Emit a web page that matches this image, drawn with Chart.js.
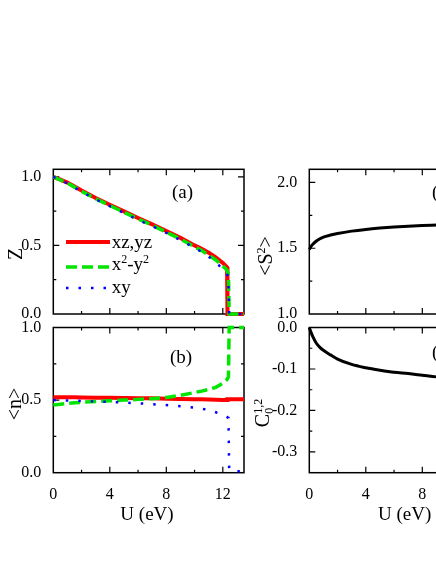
<!DOCTYPE html>
<html>
<head>
<meta charset="utf-8">
<script src="https://cdn.jsdelivr.net/npm/chart.js@4.4.1/dist/chart.umd.min.js"></script>
<style>
  html, body { margin: 0; padding: 0; background: #fff; }
  #wrap { position: relative; width: 436px; height: 564px; overflow: hidden;
          font-family: "Liberation Serif", "Times New Roman", serif; color: #000; }
  #wrap canvas { position: absolute; left: 0; top: 0; }
  .lbl { position: absolute; white-space: nowrap; font-size: 19px; line-height: 19px; }
  .ctr { transform: translate(-50%, -50%); }
  .rot { transform: translate(-50%, -50%) rotate(-90deg); font-size: 20px; line-height: 20px; }
  sup { font-size: 12px; line-height: 0; vertical-align: 7px; }
  .stack { display: inline-block; font-size: 12px; line-height: 11px; vertical-align: -4px; }
  .leg { position: absolute; }
</style>
</head>
<body>
<div id="wrap">
  <canvas id="cA" width="520" height="564"></canvas>
  <canvas id="cB" width="520" height="564"></canvas>
  <canvas id="cC" width="520" height="564"></canvas>
  <canvas id="cD" width="520" height="564"></canvas>

  <div class="lbl rot" style="left:14.5px; top:254px;">Z</div>
  <div class="lbl rot" style="left:13.5px; top:404px;">&lt;n&gt;</div>
  <div class="lbl rot" style="left:265px; top:256px;">&lt;S<sup>2</sup>&gt;</div>
  <div class="lbl rot" style="left:263px; top:413px;">C<span class="stack">1,2<br>0</span></div>
  <div class="lbl ctr" style="left:147px; top:513px;">U (eV)</div>
  <div class="lbl ctr" style="left:404.6px; top:513px;">U (eV)</div>
  <div class="lbl" style="left:172px; top:182.4px;">(a)</div>
  <div class="lbl" style="left:170px; top:347.4px;">(b)</div>
  <div class="lbl" style="left:432px; top:182.4px;">(c)</div>
  <div class="lbl" style="left:432px; top:342px;">(d)</div>
  <div id="legend"></div>
</div>
<script>
// U grid (eV) shared by panels (a) and (b)
const U = [0, 0.5, 1, 1.5, 2, 3, 4, 5, 6, 7, 8, 9, 10, 10.5, 11, 11.5, 12, 12.3, 12.33, 12.4, 12.45, 13, 13.5];

// (a) quasiparticle weight Z
const zXzYz = [1.0, 0.979, 0.958, 0.929, 0.900, 0.846, 0.797, 0.748, 0.700, 0.654, 0.605, 0.555, 0.500, 0.475, 0.447, 0.412, 0.372, 0.340, 0.0, 0, 0, 0, 0];
const zX2Y2 = [1.0, 0.977, 0.955, 0.925, 0.895, 0.840, 0.791, 0.742, 0.693, 0.647, 0.597, 0.546, 0.490, 0.462, 0.430, 0.394, 0.350, 0.318, 0.312, 0.280, 0.0, 0, 0];
const zXy   = [1.0, 0.977, 0.953, 0.922, 0.892, 0.836, 0.786, 0.736, 0.687, 0.641, 0.591, 0.539, 0.483, 0.452, 0.417, 0.379, 0.326, 0.295, 0.280, 0.216, 0.0, 0, 0];

// (b) orbital occupation <n>
const nXzYz = [0.520, 0.520, 0.519, 0.519, 0.518, 0.517, 0.516, 0.515, 0.513, 0.512, 0.510, 0.508, 0.506, 0.505, 0.504, 0.503, 0.501, 0.500, 0.505, 0.505, 0.505, 0.505, 0.505];
const nX2Y2 = [0.466, 0.472, 0.477, 0.481, 0.485, 0.490, 0.495, 0.500, 0.505, 0.510, 0.518, 0.533, 0.552, 0.562, 0.573, 0.588, 0.615, 0.642, 0.648, 0.660, 1.0, 1.0, 1.0];
const nXy   = [0.500, 0.499, 0.497, 0.496, 0.494, 0.490, 0.487, 0.483, 0.478, 0.472, 0.466, 0.458, 0.448, 0.441, 0.432, 0.416, 0.398, 0.384, 0.381, 0.378, 0.02, 0.01, 0.01];

// (c), (d) right column
const uRight = [0, 0.1, 0.25, 0.5, 0.75, 1, 1.5, 2, 3, 4, 5, 6, 7, 8, 9, 10, 11, 12];
const s2     = [1.49, 1.51, 1.53, 1.555, 1.572, 1.585, 1.60, 1.612, 1.63, 1.643, 1.653, 1.661, 1.667, 1.672, 1.676, 1.68, 1.684, 1.688];
const c012   = [0, -0.01, -0.022, -0.038, -0.048, -0.055, -0.066, -0.076, -0.089, -0.097, -0.103, -0.108, -0.111, -0.115, -0.119, -0.122, -0.125, -0.128];

// ticks
const xMajor = [0, 4, 8, 12];
const xMinor = [2, 6, 10];
const zTicks = [0, 0.5, 1.0];
const zMinor = [0.25, 0.75];
const nTicks = [0, 0.5, 1.0];
const nMinor = [0.25, 0.75];
const s2Ticks = [1.0, 1.5, 2.0];
const s2Minor = [1.25, 1.75];
const cTicks = [0, -0.1, -0.2, -0.3];
const cMinor = [-0.05, -0.15, -0.25];

const seriesLabels = ['xz,yz', 'x<sup>2</sup>-y<sup>2</sup>', 'xy'];
const seriesColors = ['#ff0000', '#00e600', '#0000ff'];
const seriesWidths = [4, 3.5, 2.5];
const seriesDashes = [[], [11, 5], [2.5, 10]];

const W = 520, H = 564;
const tickFont = { family: '"Liberation Serif", "Times New Roman", serif', size: 16 };

// box + inward ticks on all four sides
const framePlugin = {
  id: 'frame',
  beforeDatasetsDraw(chart, args, opts) {
    const { ctx, chartArea: a } = chart;
    const x = chart.scales.x, y = chart.scales.y;
    ctx.save();
    ctx.strokeStyle = '#000';
    ctx.lineWidth = 1.5;
    ctx.strokeRect(a.left, a.top, a.right - a.left, a.bottom - a.top);
    ctx.lineWidth = 1.2;
    ctx.beginPath();
    const xt = (vals, len) => vals.forEach(v => {
      const p = x.getPixelForValue(v);
      if (p <= a.left + 1 || p >= a.right - 1) return;
      ctx.moveTo(p, a.bottom); ctx.lineTo(p, a.bottom - len);
      ctx.moveTo(p, a.top); ctx.lineTo(p, a.top + len);
    });
    const yt = (vals, len) => vals.forEach(v => {
      const p = y.getPixelForValue(v);
      if (p <= a.top + 1 || p >= a.bottom - 1) return;
      ctx.moveTo(a.left, p); ctx.lineTo(a.left + len, p);
      ctx.moveTo(a.right, p); ctx.lineTo(a.right - len, p);
    });
    xt(opts.xMajor, 6); xt(opts.xMinor, 3);
    yt(opts.yMajor, 6); yt(opts.yMinor, 3);
    ctx.stroke();
    ctx.restore();
  }
};

function orbitalSets(series) {
  return series.map((ys, i) => ({
    data: U.map((u, k) => ({ x: u, y: ys[k] })),
    borderColor: seriesColors[i],
    borderWidth: seriesWidths[i],
    borderDash: seriesDashes[i],
    borderCapStyle: 'butt',
    pointRadius: 0,
    tension: 0,
    order: 3 - i,
    clip: 3
  }));
}

function blackSet(xs, ys) {
  return [{
    data: xs.map((u, k) => ({ x: u, y: ys[k] })),
    borderColor: '#000',
    borderWidth: 3,
    pointRadius: 0,
    cubicInterpolationMode: 'monotone',
    clip: 3
  }];
}

function makePanel(id, datasets, yRange, yMajor, yMinor, box, yW, showX) {
  const xH = showX ? 30 : 0;
  return new Chart(document.getElementById(id), {
    type: 'line',
    data: { datasets },
    plugins: [framePlugin],
    options: {
      responsive: false,
      animation: false,
      events: [],
      layout: { padding: { left: box.left - yW, top: box.top, right: W - box.right, bottom: H - box.bottom - xH } },
      plugins: {
        legend: { display: false },
        tooltip: { enabled: false },
        frame: { xMajor, xMinor, yMajor, yMinor }
      },
      scales: {
        x: {
          type: 'linear', min: 0, max: 13.5, display: showX,
          grid: { display: false }, border: { display: false },
          afterBuildTicks: s => { s.ticks = xMajor.map(v => ({ value: v })); },
          afterFit: s => { s.height = xH; },
          ticks: { font: tickFont, color: '#000', padding: 4, autoSkip: false, maxRotation: 0, callback: v => String(v) }
        },
        y: {
          type: 'linear', min: yRange[0], max: yRange[1],
          grid: { display: false }, border: { display: false },
          afterBuildTicks: s => { s.ticks = yMajor.map(v => ({ value: v })); },
          afterFit: s => { s.width = yW; },
          ticks: { font: tickFont, color: '#000', padding: 4, autoSkip: false, callback: v => v.toFixed(1) }
        }
      }
    }
  });
}

makePanel('cA', orbitalSets([zXzYz, zX2Y2, zXy]), [0, 1.055], zTicks, zMinor,
  { left: 53.3, top: 169.3, right: 244, bottom: 314 }, 53.3, false);
makePanel('cB', orbitalSets([nXzYz, nX2Y2, nXy]), [0, 1.0], nTicks, nMinor,
  { left: 53.3, top: 327.5, right: 244, bottom: 472.7 }, 53.3, true);
makePanel('cC', blackSet(uRight, s2), [1.0, 2.1], s2Ticks, s2Minor,
  { left: 309.3, top: 169.3, right: 500, bottom: 314 }, 49.3, false);
makePanel('cD', blackSet(uRight, c012), [-0.35, 0], cTicks, cMinor,
  { left: 309.3, top: 327.5, right: 500, bottom: 472.7 }, 49.3, true);

// legend for panel (a)
const legY = [241.7, 266.7, 288.3];
const legBase = [247.5, 270, 293.3];
const legend = document.getElementById('legend');
seriesLabels.forEach((lab, i) => {
  const dash = seriesDashes[i].join(' ');
  const row = document.createElement('div');
  row.innerHTML =
    '<svg class="leg" style="left:66px; top:' + (legY[i] - 5) + 'px" width="45" height="10">' +
    '<line x1="0" y1="5" x2="44" y2="5" stroke="' + seriesColors[i] + '" stroke-width="' + seriesWidths[i] +
    '"' + (dash ? ' stroke-dasharray="' + dash + '"' : '') + '/></svg>' +
    '<div class="lbl" style="left:111.7px; top:' + (legBase[i] - 15.9) + 'px">' + lab + '</div>';
  legend.appendChild(row);
});
</script>
</body>
</html>
